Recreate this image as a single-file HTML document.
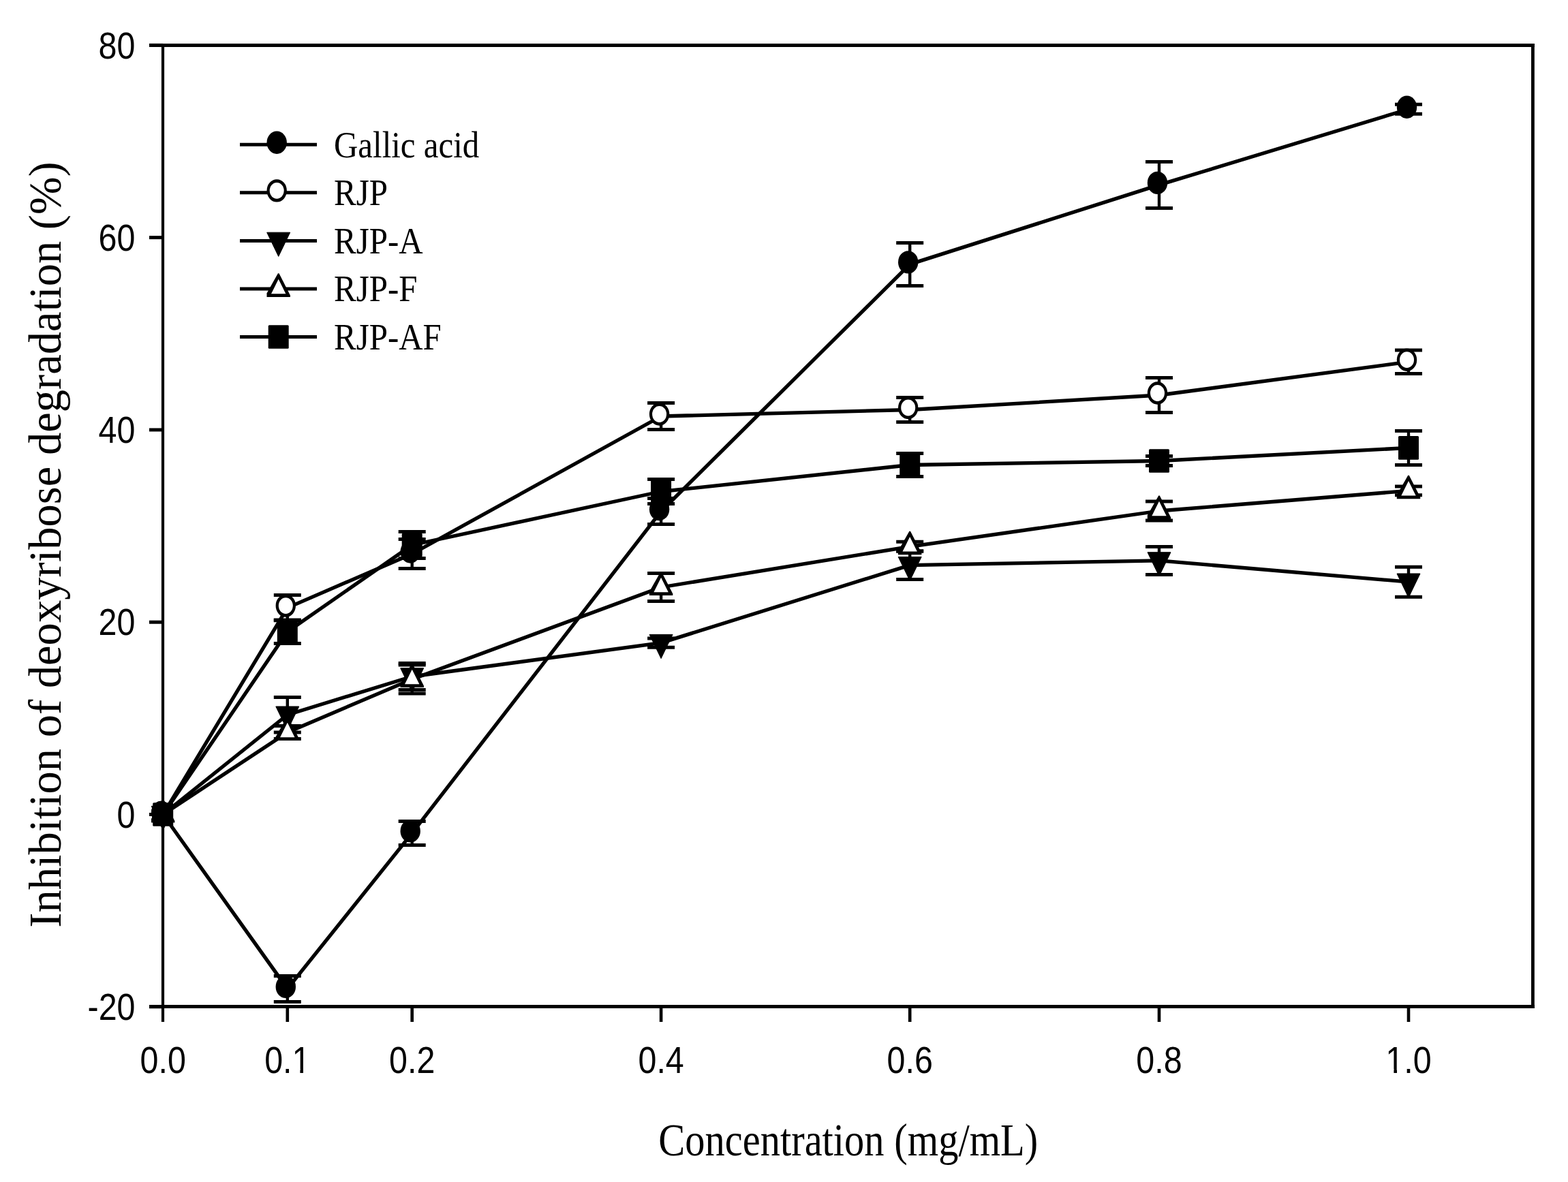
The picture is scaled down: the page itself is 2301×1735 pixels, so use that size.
<!DOCTYPE html><html><head><meta charset="utf-8"><style>html,body{margin:0;padding:0;background:#fff}svg{display:block}</style></head><body>
<svg width="2301" height="1735" viewBox="0 0 2301 1735">
<rect width="2301" height="1735" fill="#fff"/>
<g stroke="#000" fill="none" stroke-linecap="butt">
<line x1="219" y1="66.5" x2="2251.8" y2="66.5" stroke-width="5"/>
<line x1="219" y1="1477.6" x2="2251.8" y2="1477.6" stroke-width="5"/>
<line x1="239" y1="64" x2="239" y2="1500" stroke-width="4.2"/>
<line x1="2249.4" y1="64" x2="2249.4" y2="1480" stroke-width="4.8"/>
<line x1="219" y1="66.38" x2="239" y2="66.38" stroke-width="5"/>
<line x1="219" y1="348.66" x2="239" y2="348.66" stroke-width="5"/>
<line x1="219" y1="630.94" x2="239" y2="630.94" stroke-width="5"/>
<line x1="219" y1="913.22" x2="239" y2="913.22" stroke-width="5"/>
<line x1="219" y1="1195.5" x2="239" y2="1195.5" stroke-width="5"/>
<line x1="219" y1="1477.78" x2="239" y2="1477.78" stroke-width="5"/>
<line x1="421.8" y1="1477" x2="421.8" y2="1500" stroke-width="4.6"/>
<line x1="604.7" y1="1477" x2="604.7" y2="1500" stroke-width="4.6"/>
<line x1="970.1" y1="1477" x2="970.1" y2="1500" stroke-width="4.6"/>
<line x1="1335.2" y1="1477" x2="1335.2" y2="1500" stroke-width="4.6"/>
<line x1="1701" y1="1477" x2="1701" y2="1500" stroke-width="4.6"/>
<line x1="2067" y1="1477" x2="2067" y2="1500" stroke-width="4.6"/>
</g>
<g font-family="Liberation Sans, Arial, sans-serif" font-size="56.2" fill="#000">
<text text-anchor="end" transform="translate(198.5 85.58) scale(0.8618 1)">80</text>
<text text-anchor="end" transform="translate(198.5 367.86) scale(0.8618 1)">60</text>
<text text-anchor="end" transform="translate(198.5 650.14) scale(0.8618 1)">40</text>
<text text-anchor="end" transform="translate(198.5 932.42) scale(0.8618 1)">20</text>
<text text-anchor="end" transform="translate(198.5 1214.7) scale(0.8618 1)">0</text>
<text text-anchor="end" transform="translate(198.5 1496.98) scale(0.8618 1)">-20</text>
<text text-anchor="middle" transform="translate(239.2 1575.3) scale(0.8618 1)">0.0</text>
<text text-anchor="middle" transform="translate(421.8 1575.3) scale(0.8618 1)">0.1</text>
<text text-anchor="middle" transform="translate(604.7 1575.3) scale(0.8618 1)">0.2</text>
<text text-anchor="middle" transform="translate(970.1 1575.3) scale(0.8618 1)">0.4</text>
<text text-anchor="middle" transform="translate(1335.2 1575.3) scale(0.8618 1)">0.6</text>
<text text-anchor="middle" transform="translate(1701 1575.3) scale(0.8618 1)">0.8</text>
<text text-anchor="middle" transform="translate(2067 1575.3) scale(0.8618 1)">1.0</text>
</g>
<g fill="#fff"><rect x="430.5" y="1569.3" width="9.9" height="7"/><rect x="445" y="1569.3" width="9" height="7"/><rect x="2035.5" y="1569.3" width="9.9" height="7"/><rect x="2050" y="1569.3" width="9" height="7"/></g>
<g font-family="Liberation Serif, Times New Roman, serif" fill="#000">
<text font-size="67" text-anchor="middle" transform="translate(1244.8 1696) scale(0.873 1)">Concentration (mg/mL)</text>
<text font-size="66.6" text-anchor="middle" transform="translate(89 799.5) rotate(-90)">Inhibition of deoxyribose degradation (%)</text>
</g>
<g><path d="M239.2 1195.5 L421.8 1451.4 L604.7 1222.9 L970.1 750.5 L1335.2 387.9 L1701 271.4 L2067 160.2" fill="none" stroke="#000" stroke-width="5.3" stroke-linejoin="round"/><path d="M421.8 1432.4V1470.4" stroke="#000" stroke-width="4.4"/><path d="M401.8 1432.4H441.8M401.8 1470.4H441.8" stroke="#000" stroke-width="5.0"/><path d="M604.7 1205.4V1240.4" stroke="#000" stroke-width="4.4"/><path d="M584.7 1205.4H624.7M584.7 1240.4H624.7" stroke="#000" stroke-width="5.0"/><path d="M970.1 731.5V769.5" stroke="#000" stroke-width="4.4"/><path d="M950.1 731.5H990.1M950.1 769.5H990.1" stroke="#000" stroke-width="5.0"/><path d="M1335.2 356.4V419.4" stroke="#000" stroke-width="4.4"/><path d="M1315.2 356.4H1355.2M1315.2 419.4H1355.2" stroke="#000" stroke-width="5.0"/><path d="M1701 237.4V305.4" stroke="#000" stroke-width="4.4"/><path d="M1681 237.4H1721M1681 305.4H1721" stroke="#000" stroke-width="5.0"/><path d="M2067 153.2V167.2" stroke="#000" stroke-width="4.4"/><path d="M2047 153.2H2087M2047 167.2H2087" stroke="#000" stroke-width="5.0"/><ellipse cx="236.7" cy="1192.5" rx="14.7" ry="16.7"/><ellipse cx="419.3" cy="1448.4" rx="14.7" ry="16.7"/><ellipse cx="602.2" cy="1219.9" rx="14.7" ry="16.7"/><ellipse cx="967.6" cy="747.5" rx="14.7" ry="16.7"/><ellipse cx="1332.7" cy="384.9" rx="14.7" ry="16.7"/><ellipse cx="1698.5" cy="268.4" rx="14.7" ry="16.7"/><ellipse cx="2064.5" cy="157.2" rx="14.7" ry="16.7"/></g>
<g><path d="M239.2 1195.5 L421.8 892.1 L604.7 813 L970.1 611 L1335.2 601.5 L1701 580 L2067 531.2" fill="none" stroke="#000" stroke-width="5.3" stroke-linejoin="round"/><path d="M421.8 873.4V910.8" stroke="#000" stroke-width="4.4"/><path d="M401.8 873.4H441.8M401.8 910.8H441.8" stroke="#000" stroke-width="5.0"/><path d="M604.7 791.5V834.5" stroke="#000" stroke-width="4.4"/><path d="M584.7 791.5H624.7M584.7 834.5H624.7" stroke="#000" stroke-width="5.0"/><path d="M970.1 591.5V630.5" stroke="#000" stroke-width="4.4"/><path d="M950.1 591.5H990.1M950.1 630.5H990.1" stroke="#000" stroke-width="5.0"/><path d="M1335.2 583.5V619.5" stroke="#000" stroke-width="4.4"/><path d="M1315.2 583.5H1355.2M1315.2 619.5H1355.2" stroke="#000" stroke-width="5.0"/><path d="M1701 554.5V605.5" stroke="#000" stroke-width="4.4"/><path d="M1681 554.5H1721M1681 605.5H1721" stroke="#000" stroke-width="5.0"/><path d="M2067 513.9V548.5" stroke="#000" stroke-width="4.4"/><path d="M2047 513.9H2087M2047 548.5H2087" stroke="#000" stroke-width="5.0"/><ellipse cx="236.7" cy="1192.5" rx="14.7" ry="16.7"/><ellipse cx="236.7" cy="1192.5" rx="10.5" ry="11.9" fill="#fff"/><ellipse cx="419.3" cy="889.1" rx="14.7" ry="16.7"/><ellipse cx="419.3" cy="889.1" rx="10.5" ry="11.9" fill="#fff"/><ellipse cx="602.2" cy="810" rx="14.7" ry="16.7"/><ellipse cx="602.2" cy="810" rx="10.5" ry="11.9" fill="#fff"/><ellipse cx="967.6" cy="608" rx="14.7" ry="16.7"/><ellipse cx="967.6" cy="608" rx="10.5" ry="11.9" fill="#fff"/><ellipse cx="1332.7" cy="598.5" rx="14.7" ry="16.7"/><ellipse cx="1332.7" cy="598.5" rx="10.5" ry="11.9" fill="#fff"/><ellipse cx="1698.5" cy="577" rx="14.7" ry="16.7"/><ellipse cx="1698.5" cy="577" rx="10.5" ry="11.9" fill="#fff"/><ellipse cx="2064.5" cy="528.2" rx="14.7" ry="16.7"/><ellipse cx="2064.5" cy="528.2" rx="10.5" ry="11.9" fill="#fff"/></g>
<g><path d="M239.2 1195.5 L421.8 1049.2 L604.7 993 L970.1 943.6 L1335.2 829.6 L1701 822.9 L2067 854.2" fill="none" stroke="#000" stroke-width="5.3" stroke-linejoin="round"/><path d="M421.8 1023.5V1074.9" stroke="#000" stroke-width="4.4"/><path d="M401.8 1023.5H441.8M401.8 1074.9H441.8" stroke="#000" stroke-width="5.0"/><path d="M604.7 973.5V1012.5" stroke="#000" stroke-width="4.4"/><path d="M584.7 973.5H624.7M584.7 1012.5H624.7" stroke="#000" stroke-width="5.0"/><path d="M970.1 936.9V950.3" stroke="#000" stroke-width="4.4"/><path d="M950.1 936.9H990.1M950.1 950.3H990.1" stroke="#000" stroke-width="5.0"/><path d="M1335.2 808.7V850.5" stroke="#000" stroke-width="4.4"/><path d="M1315.2 808.7H1355.2M1315.2 850.5H1355.2" stroke="#000" stroke-width="5.0"/><path d="M1701 802.4V843.4" stroke="#000" stroke-width="4.4"/><path d="M1681 802.4H1721M1681 843.4H1721" stroke="#000" stroke-width="5.0"/><path d="M2067 832.2V876.2" stroke="#000" stroke-width="4.4"/><path d="M2047 832.2H2087M2047 876.2H2087" stroke="#000" stroke-width="5.0"/><path d="M222.2 1183.3H256.2L239.2 1218.5Z" stroke="#000" stroke-width="1" stroke-linejoin="round"/><path d="M404.8 1037H438.8L421.8 1072.2Z" stroke="#000" stroke-width="1" stroke-linejoin="round"/><path d="M587.7 980.8H621.7L604.7 1016Z" stroke="#000" stroke-width="1" stroke-linejoin="round"/><path d="M953.1 931.4H987.1L970.1 966.6Z" stroke="#000" stroke-width="1" stroke-linejoin="round"/><path d="M1318.2 817.4H1352.2L1335.2 852.6Z" stroke="#000" stroke-width="1" stroke-linejoin="round"/><path d="M1684 810.7H1718L1701 845.9Z" stroke="#000" stroke-width="1" stroke-linejoin="round"/><path d="M2050 842H2084L2067 877.2Z" stroke="#000" stroke-width="1" stroke-linejoin="round"/></g>
<g><path d="M239.2 1195.5 L421.8 1075 L604.7 997 L970.1 862 L1335.2 802.3 L1701 750 L2067 720.3" fill="none" stroke="#000" stroke-width="5.3" stroke-linejoin="round"/><path d="M421.8 1065.5V1084.5" stroke="#000" stroke-width="4.4"/><path d="M401.8 1065.5H441.8M401.8 1084.5H441.8" stroke="#000" stroke-width="5.0"/><path d="M604.7 976V1018" stroke="#000" stroke-width="4.4"/><path d="M584.7 976H624.7M584.7 1018H624.7" stroke="#000" stroke-width="5.0"/><path d="M970.1 841.5V882.5" stroke="#000" stroke-width="4.4"/><path d="M950.1 841.5H990.1M950.1 882.5H990.1" stroke="#000" stroke-width="5.0"/><path d="M1335.2 795.3V809.3" stroke="#000" stroke-width="4.4"/><path d="M1315.2 795.3H1355.2M1315.2 809.3H1355.2" stroke="#000" stroke-width="5.0"/><path d="M1701 736V764" stroke="#000" stroke-width="4.4"/><path d="M1681 736H1721M1681 764H1721" stroke="#000" stroke-width="5.0"/><path d="M2067 713.9V726.7" stroke="#000" stroke-width="4.4"/><path d="M2047 713.9H2087M2047 726.7H2087" stroke="#000" stroke-width="5.0"/><path d="M238.4 1172.9H240L256.4 1205V1207.5H222V1202Z"/><path d="M239.2 1181.2L249.9 1202.8H228.5Z" fill="#fff"/><path d="M421 1052.4H422.6L439 1084.5V1087H404.6V1081.5Z"/><path d="M421.8 1060.7L432.5 1082.3H411.1Z" fill="#fff"/><path d="M603.9 974.4H605.5L621.9 1006.5V1009H587.5V1003.5Z"/><path d="M604.7 982.7L615.4 1004.3H594Z" fill="#fff"/><path d="M969.3 839.4H970.9L987.3 871.5V874H952.9V868.5Z"/><path d="M970.1 847.7L980.8 869.3H959.4Z" fill="#fff"/><path d="M1334.4 779.7H1336L1352.4 811.8V814.3H1318V808.8Z"/><path d="M1335.2 788L1345.9 809.6H1324.5Z" fill="#fff"/><path d="M1700.2 727.4H1701.8L1718.2 759.5V762H1683.8V756.5Z"/><path d="M1701 735.7L1711.7 757.3H1690.3Z" fill="#fff"/><path d="M2066.2 697.7H2067.8L2084.2 729.8V732.3H2049.8V726.8Z"/><path d="M2067 706L2077.7 727.6H2056.3Z" fill="#fff"/></g>
<g><path d="M239.2 1195.5 L421.8 927.2 L604.7 800 L970.1 721.5 L1335.2 682.5 L1701 676.5 L2067 657.4" fill="none" stroke="#000" stroke-width="5.3" stroke-linejoin="round"/><path d="M421.8 910V944.4" stroke="#000" stroke-width="4.4"/><path d="M401.8 910H441.8M401.8 944.4H441.8" stroke="#000" stroke-width="5.0"/><path d="M604.7 780.5V819.5" stroke="#000" stroke-width="4.4"/><path d="M584.7 780.5H624.7M584.7 819.5H624.7" stroke="#000" stroke-width="5.0"/><path d="M970.1 703.5V739.5" stroke="#000" stroke-width="4.4"/><path d="M950.1 703.5H990.1M950.1 739.5H990.1" stroke="#000" stroke-width="5.0"/><path d="M1335.2 665.4V699.6" stroke="#000" stroke-width="4.4"/><path d="M1315.2 665.4H1355.2M1315.2 699.6H1355.2" stroke="#000" stroke-width="5.0"/><path d="M1701 669.5V683.5" stroke="#000" stroke-width="4.4"/><path d="M1681 669.5H1721M1681 683.5H1721" stroke="#000" stroke-width="5.0"/><path d="M2067 632.4V682.4" stroke="#000" stroke-width="4.4"/><path d="M2047 632.4H2087M2047 682.4H2087" stroke="#000" stroke-width="5.0"/><rect x="224.2" y="1178.2" width="30" height="34.6" rx="1.5"/><rect x="406.8" y="909.9" width="30" height="34.6" rx="1.5"/><rect x="589.7" y="782.7" width="30" height="34.6" rx="1.5"/><rect x="955.1" y="704.2" width="30" height="34.6" rx="1.5"/><rect x="1320.2" y="665.2" width="30" height="34.6" rx="1.5"/><rect x="1686" y="659.2" width="30" height="34.6" rx="1.5"/><rect x="2052" y="640.1" width="30" height="34.6" rx="1.5"/></g>
<g>
<line x1="352" y1="212.3" x2="465" y2="212.3" stroke="#000" stroke-width="5"/>
<ellipse cx="406.2" cy="209.3" rx="14.7" ry="16.7"/>
<text font-family="Liberation Serif, Times New Roman, serif" font-size="55" transform="translate(490 230.7) scale(0.89 1)">Gallic acid</text>
<line x1="352" y1="282.85" x2="465" y2="282.85" stroke="#000" stroke-width="5"/>
<ellipse cx="406.2" cy="279.85" rx="14.7" ry="16.7"/><ellipse cx="406.2" cy="279.85" rx="10.5" ry="11.9" fill="#fff"/>
<text font-family="Liberation Serif, Times New Roman, serif" font-size="55" transform="translate(490 301.25) scale(0.89 1)">RJP</text>
<line x1="352" y1="353.4" x2="465" y2="353.4" stroke="#000" stroke-width="5"/>
<path d="M391.7 341.2H425.7L408.7 376.4Z" stroke="#000" stroke-width="1" stroke-linejoin="round"/>
<text font-family="Liberation Serif, Times New Roman, serif" font-size="55" transform="translate(490 371.8) scale(0.89 1)">RJP-A</text>
<line x1="352" y1="423.95" x2="465" y2="423.95" stroke="#000" stroke-width="5"/>
<path d="M407.9 401.35H409.5L425.9 433.45V435.95H391.5V430.45Z"/><path d="M408.7 409.65L419.4 431.25H398Z" fill="#fff"/>
<text font-family="Liberation Serif, Times New Roman, serif" font-size="55" transform="translate(490 442.35) scale(0.89 1)">RJP-F</text>
<line x1="352" y1="494.5" x2="465" y2="494.5" stroke="#000" stroke-width="5"/>
<rect x="393.7" y="477.2" width="30" height="34.6" rx="1.5"/>
<text font-family="Liberation Serif, Times New Roman, serif" font-size="55" transform="translate(490 512.9) scale(0.89 1)">RJP-AF</text>
</g>
</svg></body></html>
